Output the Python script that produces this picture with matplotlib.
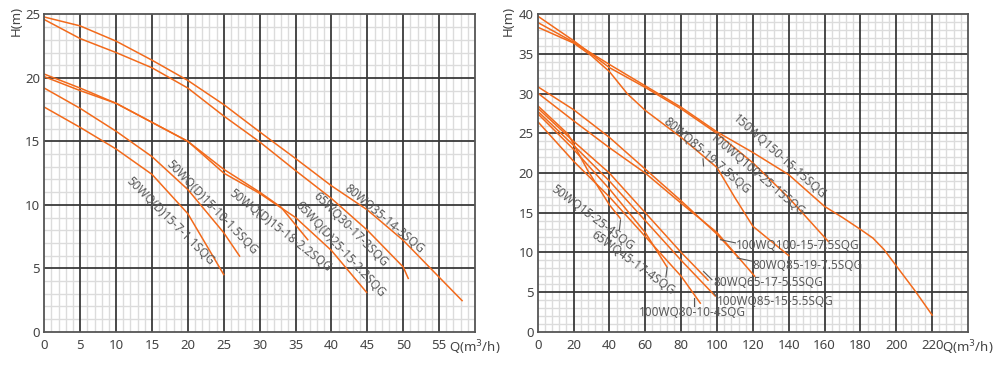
import numpy as np
import matplotlib.pyplot as plt
from matplotlib.ticker import MultipleLocator

# colours
ORANGE = '#f26a1b'
TXT = '#5a5a5a'

# LEFT CHART DATA (Q m3/h, H m)
q_80wq35 = [0, 5, 10, 15, 20, 25, 30, 35, 40, 45, 50, 55, 58.2]
h_80wq35 = [24.8, 24.1, 22.9, 21.4, 19.8, 17.9, 15.75, 13.65, 11.5, 9.6, 7.2, 4.3, 2.45]
q_65wq30 = [0, 5, 10, 15, 20, 25, 30, 35, 40, 45, 50, 50.7]
h_65wq30 = [24.6, 23.1, 22.0, 20.8, 19.2, 17.0, 14.96, 12.7, 10.5, 8.0, 5.1, 4.2]
q_50wq18 = [0, 5, 10, 15, 20, 25, 30, 33, 36.7]
h_50wq18 = [20.3, 19.2, 18.0, 16.5, 15.0, 12.8, 11.0, 9.8, 7.25]
q_65wq25 = [0, 5, 10, 15, 20, 25, 30, 35, 40, 44.9]
h_65wq25 = [20.1, 19.0, 18.0, 16.5, 15.0, 12.5, 10.9, 9.0, 6.4, 3.1]
q_50wq10 = [0, 5, 10, 15, 20, 25, 27.2]
h_50wq10 = [19.2, 17.6, 15.8, 13.8, 11.2, 7.8, 5.96]
q_50wq7 = [0, 5, 10, 15, 20, 25]
h_50wq7 = [17.7, 16.1, 14.4, 12.4, 9.3, 4.5]

left_curves = [(q_80wq35, h_80wq35), (q_65wq30, h_65wq30), (q_50wq18, h_50wq18),
               (q_65wq25, h_65wq25), (q_50wq10, h_50wq10), (q_50wq7, h_50wq7)]

# label text, position (Q, H), angle
left_labels = [('50WQ(D)15-7-1.1SQG', 17.5, 8.7, -45),
               ('50WQ(D)15-10-1.5SQG', 23.3, 9.8, -46),
               ('50WQ(D)15-18-2.2SQG', 32.8, 8.0, -38),
               ('65WQ(D)25-15-2.2SQG', 41.3, 6.5, -47),
               ('65WQ30-17-3SQG', 42.7, 8.1, -45),
               ('80WQ35-14-3SQG', 47.3, 8.9, -40)]

# RIGHT CHART DATA
q_150wq = [0, 20, 40, 60, 80, 100, 120, 140, 160, 170, 180, 187, 193, 200, 210, 220]
h_150wq = [39.0, 36.5, 33.7, 31.0, 28.3, 25.2, 22.6, 19.8, 15.8, 14.4, 12.9, 11.8, 10.4, 8.3,
           5.3, 2.1]
q_100wq25 = [0, 20, 40, 60, 80, 100, 120, 140, 162]
h_100wq25 = [39.8, 36.7, 33.3, 30.8, 28.1, 25.0, 21.3, 16.9, 11.4]
q_80wq85a = [0, 20, 30, 40, 50, 60, 80, 100, 110, 120, 140]
h_80wq85a = [38.4, 36.4, 34.8, 32.8, 30.0, 27.9, 24.5, 20.7, 16.9, 13.3, 9.6]
q_100wq15 = [0, 20, 40, 60, 80, 100, 113]
h_100wq15 = [30.9, 28.0, 24.5, 20.5, 16.5, 12.3, 9.1]
q_80wq85b = [0, 20, 40, 60, 80, 100, 121]
h_80wq85b = [30.1, 26.6, 23.2, 20.0, 16.2, 12.5, 7.0]
q_50wq15 = [0, 17, 28, 40, 46]
h_50wq15 = [28.5, 24.9, 20.3, 16.0, 14.3]
q_65wq45 = [0, 20, 40, 60, 72]
h_65wq45 = [27.5, 23.0, 18.0, 12.5, 8.2]
q_100wq80 = [0, 20, 40, 60, 80, 90.7]
h_100wq80 = [26.5, 21.5, 17.0, 12.0, 7.0, 3.6]
q_80wq65 = [0, 20, 40, 60, 80, 95]
h_80wq65 = [28.2, 24.0, 20.0, 15.0, 10.0, 6.5]
q_100wq85 = [0, 20, 40, 60, 80, 99]
h_100wq85 = [27.8, 23.5, 19.0, 14.0, 9.0, 4.5]

right_curves = [(q_150wq, h_150wq), (q_100wq25, h_100wq25), (q_80wq85a, h_80wq85a),
                (q_100wq15, h_100wq15), (q_80wq85b, h_80wq85b), (q_50wq15, h_50wq15),
                (q_65wq45, h_65wq45), (q_100wq80, h_100wq80), (q_80wq65, h_80wq65),
                (q_100wq85, h_100wq85)]

right_labels = [('150WQ150-15-15SQG', 134.9, 22.0, -41.6),
                ('100WQ100-25-15SQG', 122.3, 19.8, -40.4),
                ('80WQ85-19-7.5SQG', 94.4, 22.2, -40.7),
                ('50WQ15-25-4SQG', 30.6, 14.4, -37),
                ('65WQ45-17-4SQG', 53.0, 8.7, -36)]

# short ticks joining rotated labels to their curves: (Q1,H1) -> (Q2,H2)
right_ticks = [(46.2, 14.1, 45.6, 12.9),
               (72.2, 8.1, 71.5, 6.9),
               (92.2, 21.8, 92.5, 20.9)]

# horizontal labels: text, text (Q,H), alignment, leader (Q1,H1) -> (Q2,H2)
right_leaders = [('100WQ100-15-7.5SQG', 110.6, 10.85, 'left', 101.9, 11.6, 110.3, 11.2),
                 ('80WQ85-19-7.5SQG', 119.8, 8.3, 'left', 111.2, 9.3, 119.5, 8.9),
                 ('80WQ65-17-5.5SQG', 97.9, 6.2, 'left', 92.5, 7.6, 97.2, 6.55),
                 ('100WQ85-15-5.5SQG', 100.2, 3.8, 'left', 98.1, 4.9, 100.0, 4.4),
                 ('100WQ80-10-4SQG', 86.3, 2.4, 'center', 86.9, 4.25, 86.9, 3.2)]


def style_axes(ax, xmax, ymax, xmaj, xmin_step):
    ax.set_xlim(0, xmax)
    ax.set_ylim(0, ymax)
    ax.xaxis.set_minor_locator(MultipleLocator(xmin_step))
    ax.yaxis.set_minor_locator(MultipleLocator(1))
    ax.grid(which='minor', color='#dcdcdc', lw=1.0)
    ax.set_axisbelow(True)
    # major grid drawn on top of the light minor grid
    for v in np.arange(xmaj, xmax, xmaj):
        ax.axvline(v, color='#3a3a3a', lw=1.3, zorder=0.8)
    for v in np.arange(5, ymax, 5):
        ax.axhline(v, color='#3a3a3a', lw=1.3, zorder=0.8)
    for s in ax.spines.values():
        s.set_color('#555555')
        s.set_linewidth(1.3)
    ax.tick_params(which='both', length=0, labelsize=9.5, labelcolor='#444444')
    ax.tick_params(axis='y', pad=3)
    ax.tick_params(axis='x', pad=5)
    xt = list(np.arange(0, xmax + 1, xmaj))
    labs = [str(int(v)) for v in xt[:-1]] + ['Q(m$^3$/h)']
    ax.set_xticks(xt)
    ax.set_xticklabels(labs)
    ax.set_yticks(np.arange(0, ymax + 1, 5))


fig = plt.figure(figsize=(10, 3.66), dpi=100)
plt.rcParams['font.family'] = ['Noto Sans', 'DejaVu Sans']

ax1 = fig.add_axes([0.0443, 0.0937, 0.4307, 0.8667])
ax2 = fig.add_axes([0.5377, 0.0937, 0.4303, 0.8667])

style_axes(ax1, 60, 25, 5, 1)
style_axes(ax2, 240, 40, 20, 4)

for q, h in left_curves:
    ax1.plot(q, h, color=ORANGE, lw=1.1, zorder=2)
for t, x, y, a in left_labels:
    ax1.text(x, y, t, rotation=a, rotation_mode='anchor', ha='center', va='center',
             fontsize=8.5, color=TXT, zorder=3)

for q, h in right_curves:
    ax2.plot(q, h, color=ORANGE, lw=1.1, zorder=2)
for t, x, y, a in right_labels:
    ax2.text(x, y, t, rotation=a, rotation_mode='anchor', ha='center', va='center',
             fontsize=8.5, color=TXT, zorder=3)
for x1, y1, x2, y2 in right_ticks:
    ax2.plot([x1, x2], [y1, y2], color='#555555', lw=0.8, zorder=3)
for t, x, y, ha, x1, y1, x2, y2 in right_leaders:
    ax2.text(x, y, t, ha=ha, va='center', fontsize=8.5, color=TXT, zorder=3)
    ax2.plot([x1, x2], [y1, y2], color='#555555', lw=0.8, zorder=3)

fig.text(0.016, 1 - 21 / 366, 'H(m)', rotation=90, ha='center', va='center',
         fontsize=9.5, color='#444444')
fig.text(0.508, 1 - 21 / 366, 'H(m)', rotation=90, ha='center', va='center',
         fontsize=9.5, color='#444444')

fig.savefig('out.png', dpi=100)
